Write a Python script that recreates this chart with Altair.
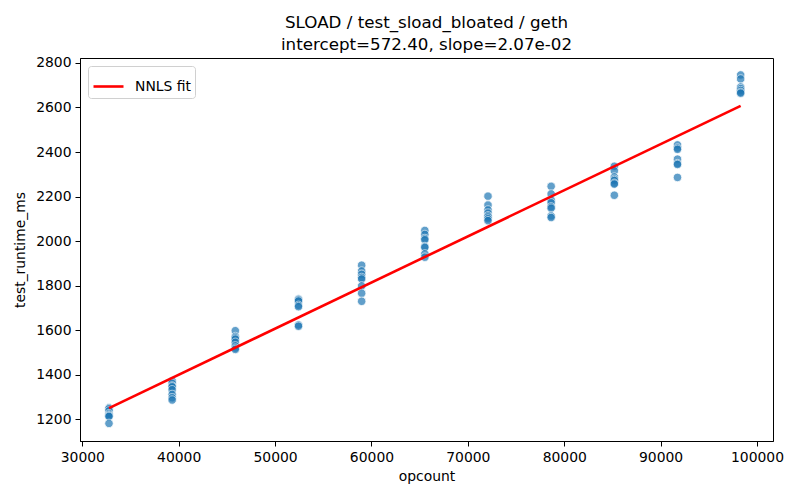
import altair as alt
import pandas as pd

opcount = [32768, 39322, 45875, 52429, 58982, 65536, 72090, 78643, 85197, 91750, 98304]
runtimes = [
    [1252, 1247, 1238, 1226, 1220, 1216, 1213, 1182],
    [1372, 1362, 1350, 1346, 1333, 1312, 1297, 1287],
    [1598, 1572, 1566, 1560, 1546, 1530, 1520, 1514],
    [1740, 1736, 1731, 1712, 1706, 1624, 1618],
    [1892, 1866, 1851, 1837, 1830, 1799, 1766, 1730],
    [2048, 2030, 2012, 2006, 1976, 1972, 1943, 1928],
    [2202, 2162, 2140, 2126, 2114, 2108, 2100, 2092],
    [2246, 2212, 2184, 2172, 2154, 2148, 2113, 2106],
    [2336, 2316, 2288, 2278, 2272, 2260, 2256, 2206],
    [2432, 2418, 2412, 2368, 2348, 2344, 2286],
    [2746, 2728, 2692, 2684, 2676, 2668, 2664],
]
intercept = 572.40
slope = 2.07e-02
fit_x = [32768, 98304]
fit_y = [intercept + slope * v for v in fit_x]

rows = []
for x, ys in zip(opcount, runtimes):
    for y in ys:
        rows.append({"opcount": x, "test_runtime_ms": y})
pts = pd.DataFrame(rows)
fit = pd.DataFrame({"opcount": fit_x, "test_runtime_ms": fit_y, "series": ["NNLS fit"] * 2})

FONT = "DejaVu Sans"
xscale = alt.Scale(domain=[29760, 101660], nice=False, zero=False)
yscale = alt.Scale(domain=[1103, 2822], nice=False, zero=False)
xaxis = alt.Axis(title="opcount", values=[30000, 40000, 50000, 60000, 70000, 80000, 90000, 100000],
                 format="d", grid=False, tickColor="black", domainColor="black", tickSize=5,
                 labelFontSize=13.9, titleFontSize=13.9, labelFont=FONT, titleFont=FONT,
                 titleFontWeight="normal", labelColor="black", titleColor="black",
                 labelPadding=4, titlePadding=6, labelFlush=False)
yaxis = alt.Axis(title="test_runtime_ms", values=[1200, 1400, 1600, 1800, 2000, 2200, 2400, 2600, 2800],
                 format="d", grid=False, tickColor="black", domainColor="black", tickSize=5,
                 labelFontSize=13.9, titleFontSize=13.9, labelFont=FONT, titleFont=FONT,
                 titleFontWeight="normal", labelColor="black", titleColor="black",
                 labelPadding=4, titlePadding=8, labelFlush=False)

points = alt.Chart(pts).mark_point(filled=True, size=72, opacity=0.7,
                                   strokeWidth=0.8).encode(
    x=alt.X("opcount:Q", scale=xscale, axis=xaxis),
    y=alt.Y("test_runtime_ms:Q", scale=yscale, axis=yaxis),
    fill=alt.value("#1f77b4"),
    stroke=alt.value("white"),
)

line = alt.Chart(fit).mark_line(strokeWidth=2.6).encode(
    x=alt.X("opcount:Q", scale=xscale, axis=xaxis),
    y=alt.Y("test_runtime_ms:Q", scale=yscale, axis=yaxis),
    color=alt.Color("series:N", scale=alt.Scale(domain=["NNLS fit"], range=["red"]),
                    legend=alt.Legend(title=None, orient="none", legendX=8, legendY=8,
                                      symbolType="stroke", symbolStrokeWidth=2.6, symbolSize=900,
                                      labelFontSize=13.9, labelFont=FONT, labelColor="black",
                                      strokeColor="#d0d0d0", fillColor="white", cornerRadius=3,
                                      padding=4, labelOffset=10)),
)

chart = alt.layer(points, line).properties(
    width=693, height=383,
    title=alt.TitleParams(text=["SLOAD / test_sload_bloated / geth", "intercept=572.40, slope=2.07e-02"],
                          font=FONT, fontSize=16.7, fontWeight="normal", color="black",
                          anchor="middle", lineHeight=22, offset=2),
    autosize=alt.AutoSizeParams(type="none"),
    padding={"left": 72, "top": 50, "right": 19, "bottom": 50},
).configure_view(stroke="black", strokeWidth=1)

chart.save("out.html", embed_options={"renderer": "svg", "actions": False})
